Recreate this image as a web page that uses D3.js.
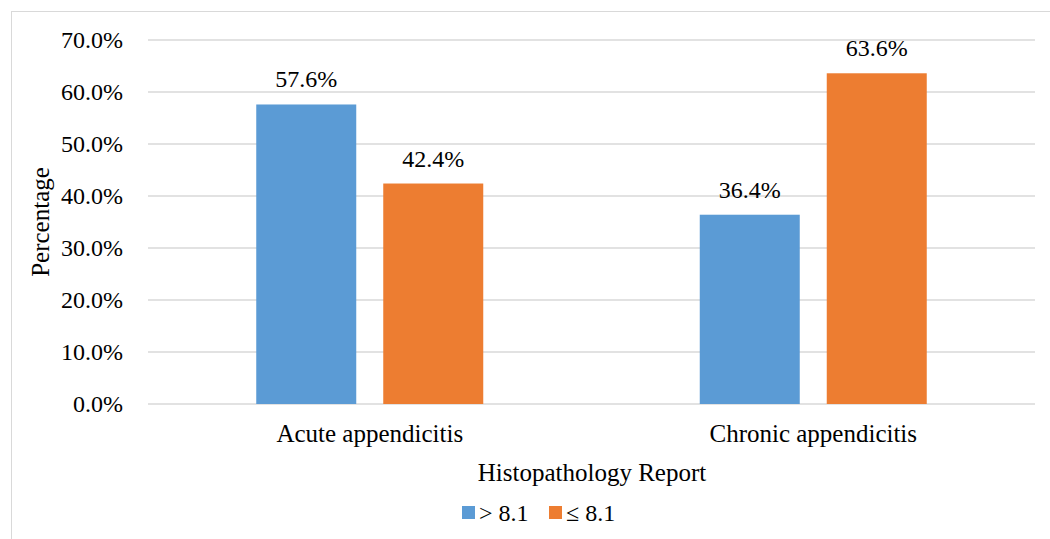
<!DOCTYPE html>
<html>
<head>
<meta charset="utf-8">
<script src="https://cdn.jsdelivr.net/npm/d3@7"></script>
<style>
  html, body { margin: 0; padding: 0; background: #fff; }
  svg { display: block; }
</style>
</head>
<body>
<svg id="chart" width="1050" height="539"></svg>
<script>
// Chart data
const categories = ["Acute appendicitis", "Chronic appendicitis"];
const seriesNames = ["> 8.1", "\u2264 8.1"];
const seriesColors = ["#5B9BD5", "#ED7D31"];
const gt81 = [57.6, 36.4];
const le81 = [42.4, 63.6];
const yTicks = [0, 10, 20, 30, 40, 50, 60, 70];

const FONT = '"Liberation Serif", "Times New Roman", Times, serif';
const svg = d3.select("#chart");

// Outer chart frame (right and bottom edges run past the canvas)
svg.append("rect")
  .attr("x", 11.5).attr("y", 11.5)
  .attr("width", 1045).attr("height", 540)
  .attr("fill", "#fff").attr("stroke", "#D9D9D9").attr("stroke-width", 1);

const plot = { left: 148, right: 1035, top: 40, bottom: 404 };

const x0 = d3.scaleBand().domain(categories).range([plot.left, plot.right]);
const y = d3.scaleLinear().domain([0, 70]).range([plot.bottom, plot.top]);

// Gridlines
svg.append("g")
  .selectAll("line").data(yTicks).join("line")
  .attr("x1", plot.left).attr("x2", plot.right)
  .attr("y1", d => y(d)).attr("y2", d => y(d))
  .attr("stroke", "#D9D9D9").attr("stroke-width", 1.5);

// Y tick labels
const yAxis = d3.axisLeft(y).tickValues(yTicks).tickSize(0).tickPadding(0)
  .tickFormat(d => d3.format(".1f")(d) + "%");
const gy = svg.append("g").attr("transform", "translate(123,0)").call(yAxis);
gy.select(".domain").remove();
gy.selectAll("text")
  .style("font-family", FONT).style("font-size", "24px").attr("fill", "#000");

// Bars
const rows = categories.map((c, i) => ({ cat: c, values: [gt81[i], le81[i]] }));
const barW = 100, gap = 27;
const x1 = d3.scaleOrdinal().domain([0, 1]).range([0, barW + gap]);
const groups = svg.append("g").selectAll("g").data(rows).join("g")
  .attr("transform", d => `translate(${x0(d.cat) + x0.bandwidth() / 2 - (2 * barW + gap) / 2},0)`);

groups.selectAll("rect").data(d => d.values.map((v, j) => ({ v, j })))
  .join("rect")
  .attr("x", d => x1(d.j))
  .attr("width", barW)
  .attr("y", d => y(d.v))
  .attr("height", d => y(0) - y(d.v))
  .attr("fill", d => seriesColors[d.j]);

// Data labels
groups.selectAll("text").data(d => d.values.map((v, j) => ({ v, j })))
  .join("text")
  .attr("x", d => x1(d.j) + barW / 2)
  .attr("y", d => y(d.v) - 17)
  .attr("text-anchor", "middle")
  .style("font-family", FONT).style("font-size", "24px")
  .text(d => d3.format(".1f")(d.v) + "%");

// Category labels
svg.append("g").selectAll("text").data(categories).join("text")
  .attr("x", d => x0(d) + x0.bandwidth() / 2)
  .attr("y", 442)
  .attr("text-anchor", "middle")
  .style("font-family", FONT).style("font-size", "25px")
  .text(d => d);

// Axis titles
svg.append("text")
  .attr("x", 592).attr("y", 481)
  .attr("text-anchor", "middle")
  .style("font-family", FONT).style("font-size", "25px")
  .text("Histopathology Report");

svg.append("text")
  .attr("transform", "translate(49,222) rotate(-90)")
  .attr("text-anchor", "middle")
  .style("font-family", FONT).style("font-size", "25px")
  .text("Percentage");

// Legend
const legend = svg.append("g");
const legendX = [462, 549];
seriesNames.forEach((name, i) => {
  legend.append("rect").attr("x", legendX[i]).attr("y", 506)
    .attr("width", 13).attr("height", 13).attr("fill", seriesColors[i]);
  legend.append("text").attr("x", legendX[i] + 17).attr("y", 521)
    .style("font-family", FONT).style("font-size", "24px")
    .text(name);
});
</script>
</body>
</html>
